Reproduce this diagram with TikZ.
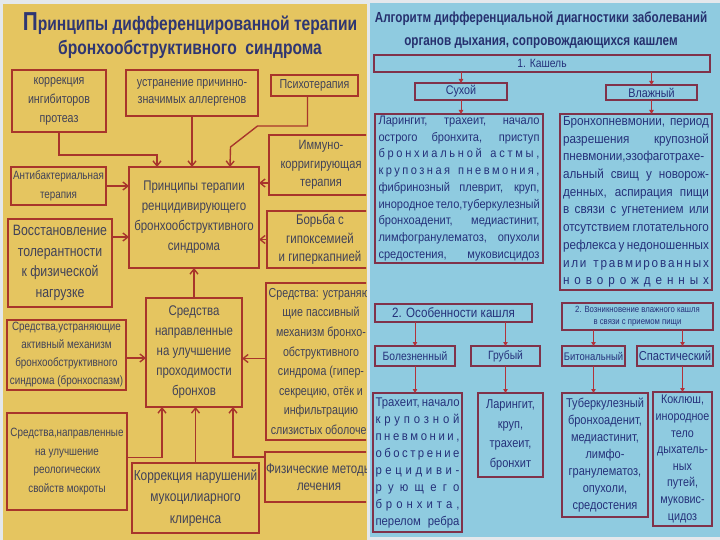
\documentclass[tikz,border=0pt]{standalone}
\usepackage{fontspec}
\usetikzlibrary{arrows.meta}
\setmainfont{Liberation Sans}
\newfontfamily\nar[FakeStretch=0.82]{Liberation Sans}
\newfontfamily\rnar[FakeStretch=0.86]{Liberation Sans}
\newfontfamily\rnarw[FakeStretch=0.9]{Liberation Sans}
\newfontfamily\tnar[FakeStretch=0.80]{Liberation Sans}
\definecolor{yel}{HTML}{E5C560}
\definecolor{lred}{HTML}{A8352B}
\definecolor{ltxt}{HTML}{414258}
\definecolor{ltitle}{HTML}{2F3672}
\definecolor{blu}{HTML}{8FCBE0}
\definecolor{rbord}{HTML}{80324A}
\definecolor{rtxt}{HTML}{25317A}
\definecolor{rtitle}{HTML}{26306E}
\definecolor{rarrc}{HTML}{B2323A}
\definecolor{paper}{HTML}{E4E8EC}
\makeatletter
\def\myspr#1#2{\leavevmode\hbox to #1{\myspr@a#2\relax}}
\def\myspr@a#1{#1\myspr@b}
\def\myspr@b#1{\ifx\relax#1\else\hfil#1\expandafter\myspr@b\fi}
\makeatother
\newcommand\myjl[2]{\makebox[#1][s]{#2}}
\begin{document}
\begin{tikzpicture}[x=1pt,y=-1pt,
  every node/.style={inner sep=1pt, outer sep=0pt},
  lbox/.style={draw=lred, line width=1.7pt, fill=yel, text=ltxt, align=center, anchor=north west},
  sz/.style 2 args={minimum width=#1, minimum height=#2},
  larr/.style={draw=lred, line width=1.4pt, -{Straight Barb[length=5pt,width=8pt]}},
  rbox/.style={draw=rbord, line width=1.2pt, text=rtxt, anchor=north west},
  rarr/.style={draw=rarrc, line width=0.9pt, -{Triangle[length=4pt,width=4.5pt]}}
]
\useasboundingbox (0,0) rectangle (720,540);
\fill[paper] (0,0) rectangle (720,540);
\fill[yel] (3,4) rectangle (367,540);
\fill[blu] (370,3) rectangle (720,537);

% ---------------- left poster ----------------
\begin{scope}
\clip (3,4) rectangle (366,540);
\node[text=ltitle, font=\tnar\bfseries\fontsize{19.5}{24}\selectfont, align=center] (ltitle) at (190,36)
  {{\fontsize{26}{24}\selectfont П}ринципы дифференцированной терапии\\бронхообструктивного\ \ синдрома};

\node[lbox, sz={94pt}{62pt}, font=\nar\fontsize{13}{19}\selectfont] (b1) at (12,70) {коррекция\\ингибиторов\\протеаз};
\node[lbox, sz={132pt}{46pt}, font=\nar\fontsize{13}{17}\selectfont] (b2) at (126,70) {устранение причинно-\\значимых аллергенов};
\node[lbox, sz={87pt}{21pt}, font=\nar\fontsize{13}{17}\selectfont] (b3) at (271,75) {Психотерапия};
\node[lbox, sz={104pt}{60pt}, font=\nar\fontsize{13.5}{18.5}\selectfont] (b4) at (269,135) {Иммуно-\\корригирующая\\терапия};
\node[lbox, sz={130pt}{101pt}, font=\nar\fontsize{14}{20}\selectfont] (c) at (129,167) {Принципы терапии\\ренцидивирующего\\бронхообструктивного\\синдрома};
\node[lbox, sz={95pt}{38pt}, font=\nar\fontsize{12}{19}\selectfont] (b6) at (11,167) {Антибактериальная\\терапия};
\node[lbox, sz={104pt}{88pt}, font=\nar\fontsize{15}{20.5}\selectfont] (b7) at (8,219) {Восстановление\\толерантности\\к физической\\нагрузке};
\node[lbox, sz={106pt}{57pt}, font=\nar\fontsize{14}{18.5}\selectfont] (b8) at (267,211) {Борьба с\\гипоксемией\\и гиперкапнией};
\node[lbox, sz={110pt}{157pt}, font=\nar\fontsize{13}{19.6}\selectfont] (b9) at (266,283) {Средства: устраняю-\\щие пассивный\\механизм бронхо-\\обструктивного\\синдрома (гипер-\\секрецию, отёк и\\инфильтрацию\\слизистых оболочек};
\node[lbox, sz={96pt}{109pt}, font=\nar\fontsize{14}{20}\selectfont] (b10) at (146,298) {Средства\\направленные\\на улучшение\\проходимости\\бронхов};
\node[lbox, sz={119pt}{70pt}, font=\nar\fontsize{12}{18}\selectfont] (b11) at (7,320) {Средства,устраняющие\\активный механизм\\бронхообструктивного\\синдрома (бронхоспазм)};
\node[lbox, sz={120pt}{97pt}, font=\nar\fontsize{12}{18.5}\selectfont] (b12) at (7,413) {Средства,направленные\\на улучшение\\реологических\\свойств мокроты};
\node[lbox, sz={127pt}{70pt}, font=\nar\fontsize{14.5}{21.5}\selectfont] (b13) at (132,463) {Коррекция нарушений\\мукоцилиарного\\клиренса};
\node[lbox, sz={108pt}{50pt}, font=\nar\fontsize{14}{17.5}\selectfont] (b14) at (265,452) {Физические методы\\лечения};

\draw[larr] (b1.south) |- ([xshift=28pt,yshift=12pt]c.north west) -- ([xshift=28pt]c.north west);
\draw[larr] (b2.south) -- (b2.south |- c.north);
\draw[larr] ([xshift=-7pt]b3.south) -- ++(0,30) -- ++(-50,0) -- ++(-27,21) -- ([xshift=101pt]c.north west);
\draw[larr] ([yshift=-18pt]b4.west) -- ([yshift=-18pt]b4.west -| c.east);
\draw[larr] (b6.east) -- (b6.east -| c.west);
\draw[larr] ([yshift=26pt]b7.east) -- ([yshift=26pt]b7.east -| c.west);
\draw[larr] (b8.west) -- (b8.west -| c.east);
\draw[larr] (b10.north) -- (c.south);
\draw[larr] ([yshift=3pt]b9.west) -- ([yshift=3pt]b9.west -| b10.east);
\draw[larr] ([yshift=-3pt]b11.east) -- ([yshift=-3pt]b11.east -| b10.west);
\draw[larr] ([yshift=4pt]b12.east) -| ([xshift=16pt]b10.south west);
\draw[larr] (b13.north) -- (b13.north |- b10.south);
\draw[larr] ([yshift=-5pt]b14.north west) -| ([xshift=-9pt]b10.south east);
\end{scope}

% ---------------- right poster ----------------
\node[text=rtitle, font=\tnar\bfseries\fontsize{14.6}{23}\selectfont, align=center] (rtitle) at (541,30)
  {Алгоритм дифференциальной диагностики заболеваний\\органов дыхания, сопровождающихся кашлем};

\node[rbox, sz={336pt}{17pt}, font=\rnar\fontsize{12}{14}\selectfont] (r1) at (374,55) {1. Кашель};
\node[rbox, sz={92pt}{17pt}, font=\rnar\fontsize{12.5}{14}\selectfont] (r2) at (415,83) {Сухой};
\node[rbox, sz={91pt}{15pt}, font=\rnar\fontsize{12.5}{14}\selectfont] (r3) at (606,85) {Влажный};

\node[rbox, sz={168pt}{149pt}, align=left, font=\rnarw\fontsize{12.3}{16.75}\selectfont] (r4) at (375,114)
{\myjl{161pt}{Ларингит, трахеит, начало}\\
\myjl{161pt}{острого бронхита, приступ}\\
\myspr{161pt}{бронхиальной~астмы,}\\
\myspr{161pt}{крупозная~пневмония,}\\
\myjl{161pt}{фибринозный плеврит, круп,}\\
\myjl{161pt}{инородное тело,туберкулезный}\\
\myjl{161pt}{бронхоаденит, медиастинит,}\\
\myjl{161pt}{лимфогранулематоз, опухоли}\\
\myjl{161pt}{средостения, муковисцидоз}};

\node[rbox, sz={152pt}{176pt}, align=left, font=\rnarw\fontsize{13}{17.7}\selectfont] (r5) at (560,114)
{\myjl{146pt}{Бронхопневмонии, период}\\
\myjl{146pt}{разрешения крупозной}\\
\myjl{146pt}{пневмонии,эзофаготрахе-}\\
\myjl{146pt}{альный свищ у новорож-}\\
\myjl{146pt}{денных, аспирация пищи}\\
\myjl{146pt}{в связи с угнетением или}\\
\myjl{146pt}{отсутствием глотательного}\\
\myjl{146pt}{рефлекса у недоношенных}\\
\myspr{146pt}{или~травмированных}\\
\myspr{146pt}{новорожденных}};

\node[rbox, sz={157pt}{18pt}, font=\rnar\fontsize{13.5}{15}\selectfont] (r6) at (375,304) {2. Особенности кашля};
\node[rbox, sz={151pt}{27pt}, align=center, font=\rnar\fontsize{9}{12}\selectfont] (r7) at (562,303) {2. Возникновение влажного кашля\\в связи с приемом пищи};
\node[rbox, sz={80pt}{20pt}, font=\rnar\fontsize{12}{14}\selectfont] (r8) at (375,346) {Болезненный};
\node[rbox, sz={69pt}{20pt}, font=\rnar\fontsize{12}{14}\selectfont] (r9) at (471,346) {Грубый};
\node[rbox, sz={63pt}{20pt}, font=\rnar\fontsize{11}{14}\selectfont] (r10) at (562,346) {Битональный};
\node[rbox, sz={76pt}{20pt}, font=\rnar\fontsize{13}{14}\selectfont] (r11) at (637,346) {Спастический};

\node[rbox, sz={89pt}{139pt}, align=left, font=\rnarw\fontsize{12.6}{17}\selectfont] (r12) at (373,393)
{\myjl{84pt}{Трахеит, начало}\\
\myspr{84pt}{крупозной}\\
\myspr{84pt}{пневмонии,}\\
\myspr{84pt}{обострение}\\
\myspr{84pt}{рецидиви-}\\
\myspr{84pt}{рующего}\\
\myspr{84pt}{бронхита,}\\
\myjl{84pt}{перелом ребра}};
\node[rbox, sz={65pt}{84pt}, align=center, font=\rnar\fontsize{12.8}{19.5}\selectfont] (r13) at (478,393) {Ларингит,\\круп,\\трахеит,\\бронхит};
\node[rbox, sz={86pt}{124pt}, align=center, font=\rnar\fontsize{12.8}{17}\selectfont] (r14) at (562,393) {Туберкулезный\\бронхоаденит,\\медиастинит,\\лимфо-\\гранулематоз,\\опухоли,\\средостения};
\node[rbox, sz={59pt}{134pt}, align=center, font=\rnar\fontsize{12.5}{16.6}\selectfont] (r15) at (653,392) {Коклюш,\\инородное\\тело\\дыхатель-\\ных\\путей,\\муковис-\\цидоз};

\draw[rarr] (r2.north |- r1.south) -- (r2.north);
\draw[rarr] (r3.north |- r1.south) -- (r3.north);
\draw[rarr] (r2.south) -- (r2.south |- r4.north);
\draw[rarr] (r3.south) -- (r3.south |- r5.north);
\draw[rarr] (r8.north |- r6.south) -- (r8.north);
\draw[rarr] (r9.north |- r6.south) -- (r9.north);
\draw[rarr] (r10.north |- r7.south) -- (r10.north);
\draw[rarr] (r15.north |- r7.south) -- (r15.north |- r11.north);
\draw[rarr] (r8.south) -- (r8.south |- r12.north);
\draw[rarr] (r9.south) -- (r9.south |- r13.north);
\draw[rarr] (r10.south) -- (r10.south |- r14.north);
\draw[rarr] (r15.north |- r11.south) -- (r15.north);
\end{tikzpicture}
\end{document}
